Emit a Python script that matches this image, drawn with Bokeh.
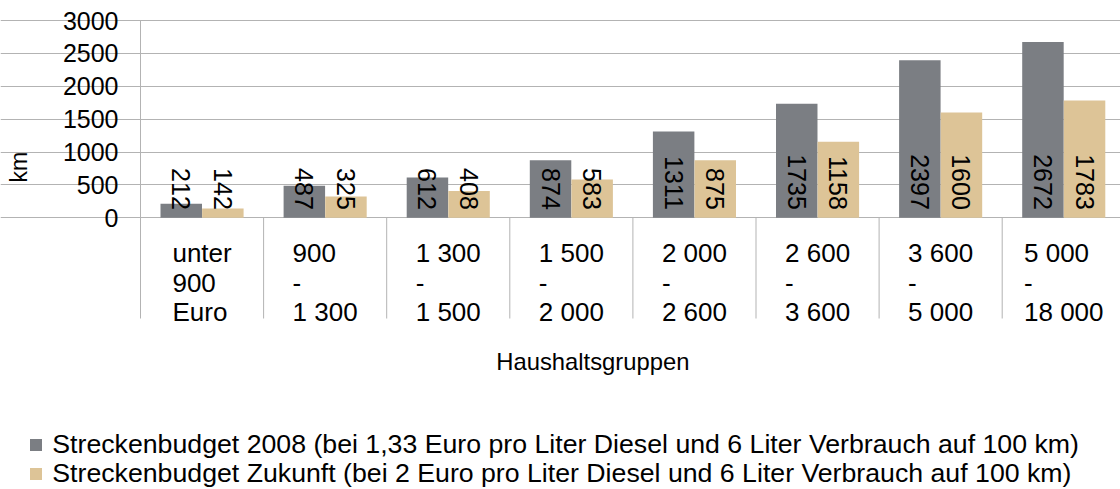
import math
from bokeh.plotting import figure
from bokeh.models import Range1d, FixedTicker, Label, Legend, LegendItem, ColumnDataSource
from bokeh.core.properties import value
from bokeh.embed import file_html
from bokeh.resources import INLINE

# ---------------- data ----------------
categories = ["unter\n900\nEuro", "900\n-\n1 300", "1 300\n-\n1 500", "1 500\n-\n2 000",
              "2 000\n-\n2 600", "2 600\n-\n3 600", "3 600\n-\n5 000", "5 000\n-\n18 000"]
budget_2008 = [212, 487, 612, 874, 1311, 1735, 2397, 2672]
budget_future = [142, 325, 408, 583, 875, 1158, 1600, 1783]
y_ticks = [0, 500, 1000, 1500, 2000, 2500, 3000]
series_names = [
    "Streckenbudget 2008 (bei 1,33 Euro pro Liter Diesel und 6 Liter Verbrauch auf 100 km)",
    "Streckenbudget Zukunft (bei 2 Euro pro Liter Diesel und 6 Liter Verbrauch auf 100 km)",
]
x_title = "Haushaltsgruppen"
y_title = "km"

# ---------------- style / layout ----------------
COL_2008 = "#7b7e83"
COL_FUT = "#ddc497"
GRID = "#b3b3b3"
FONT = "Liberation Sans"

W, H = 1120, 489
AX_PX = 140            # page x of the value axis
TOP_PX = 20            # page y of 3000
ZERO_PX = 217.3        # page y of 0
PXU = (ZERO_PX - TOP_PX) / 3000.0   # px per value unit
CAT_W = 123.1          # px per category


def ydata(page_y):
    return (ZERO_PX - page_y) / PXU


def xdata(page_x):
    return (page_x - AX_PX) / CAT_W


p = figure(width=W, height=H, output_backend="svg", toolbar_location=None,
           x_range=Range1d(xdata(0), xdata(W)), y_range=Range1d(ydata(H), ydata(0)),
           x_axis_location=None,
           min_border_left=0, min_border_right=0, min_border_top=0, min_border_bottom=0)
p.outline_line_color = None
p.background_fill_color = "white"
p.border_fill_color = "white"
p.xgrid.visible = False

n = len(categories)
ticker = FixedTicker(ticks=y_ticks)
p.ygrid.ticker = ticker
p.ygrid.bounds = (0, xdata(W))
p.ygrid.grid_line_color = GRID
p.ygrid.grid_line_width = 1

ax = p.yaxis[0]
ax.ticker = ticker
ax.fixed_location = 0
ax.bounds = (0, 3000)
ax.axis_line_color = None
ax.major_tick_out = 12
ax.major_tick_in = 0
ax.minor_tick_line_color = None
ax.major_tick_line_color = GRID
ax.major_label_standoff = 10
ax.major_label_text_font_size = "25px"
ax.major_label_text_font = FONT
ax.major_label_text_color = "black"

# category separators
sep_x = list(range(n + 1))
p.segment(x0=sep_x, y0=[3000] + [0] * n, x1=sep_x, y1=[ydata(318)] * (n + 1),
          line_color=GRID, line_width=1)

# bars
OFF = 0.169
BW = 0.337
src = ColumnDataSource(dict(
    x1=[i + 0.5 - OFF for i in range(n)],
    x2=[i + 0.5 + OFF for i in range(n)],
    v1=budget_2008, v2=budget_future,
    t1=[str(v) for v in budget_2008], t2=[str(v) for v in budget_future],
))
r1 = p.vbar(x="x1", top="v1", bottom=0, width=BW, source=src, fill_color=COL_2008, line_color=None)
r2 = p.vbar(x="x2", top="v2", bottom=0, width=BW, source=src, fill_color=COL_FUT, line_color=None)

# data labels (rotated, inside base)
lbl_y = 8 / PXU
for xcol, tcol in (("x1", "t1"), ("x2", "t2")):
    p.text(x=xcol, y=lbl_y, text=tcol, source=src, angle=-math.pi / 2,
           text_align="right", text_baseline="middle",
           text_font=value(FONT), text_font_size="25px", text_color="black")

# category labels (left-aligned block centred in each category)
CW = {str(d): 0.556 for d in range(10)}
CW.update({" ": 0.278, "-": 0.333, "u": 0.556, "n": 0.556, "t": 0.278, "e": 0.556,
           "r": 0.333, "E": 0.667, "o": 0.556})
CAT_FS = 26
MID0 = 252.5
LINE_H = 29.65
cx, cy, ct, cxo = [], [], [], []
for i, c in enumerate(categories):
    lines = c.split("\n")
    wmax = max(sum(CW.get(ch, 0.556) for ch in ln) for ln in lines) * CAT_FS
    for j, ln in enumerate(lines):
        cx.append(i + 0.5)
        cy.append(ydata(MID0 + j * LINE_H))
        ct.append(ln)
        cxo.append(-wmax / 2)
p.text(x=cx, y=cy, text=ct, x_offset=cxo, text_align="left", text_baseline="middle",
       text_font=value(FONT), text_font_size=f"{CAT_FS}px", text_color="black")

# axis titles
p.add_layout(Label(x=xdata(18.4), y=ydata(166.7), text=y_title, angle=math.pi / 2,
                   text_align="center", text_baseline="middle",
                   text_font=FONT, text_font_size="23px", text_color="black"))
p.add_layout(Label(x=xdata(592.3), y=ydata(361), text=x_title,
                   text_align="center", text_baseline="middle",
                   text_font=FONT, text_font_size="23.8px", text_color="black"))

# legend: one entry per row, each placed at its own row
ROW_CENTERS = [444.3, 473.0]
HALF_ITEM = 15.8
for name, rend, yc in zip(series_names, (r1, r2), ROW_CENTERS):
    lg = Legend(items=[LegendItem(label=name, renderers=[rend])],
                location=(28.3, H - (yc + HALF_ITEM)),
                orientation="vertical", glyph_width=15, glyph_height=15,
                label_standoff=9, spacing=0, padding=0, margin=0,
                border_line_color=None, background_fill_alpha=0,
                label_text_font=FONT, label_text_font_size="26.7px", label_text_color="black")
    p.add_layout(lg)

open("out.html", "w").write(file_html(p, INLINE))
